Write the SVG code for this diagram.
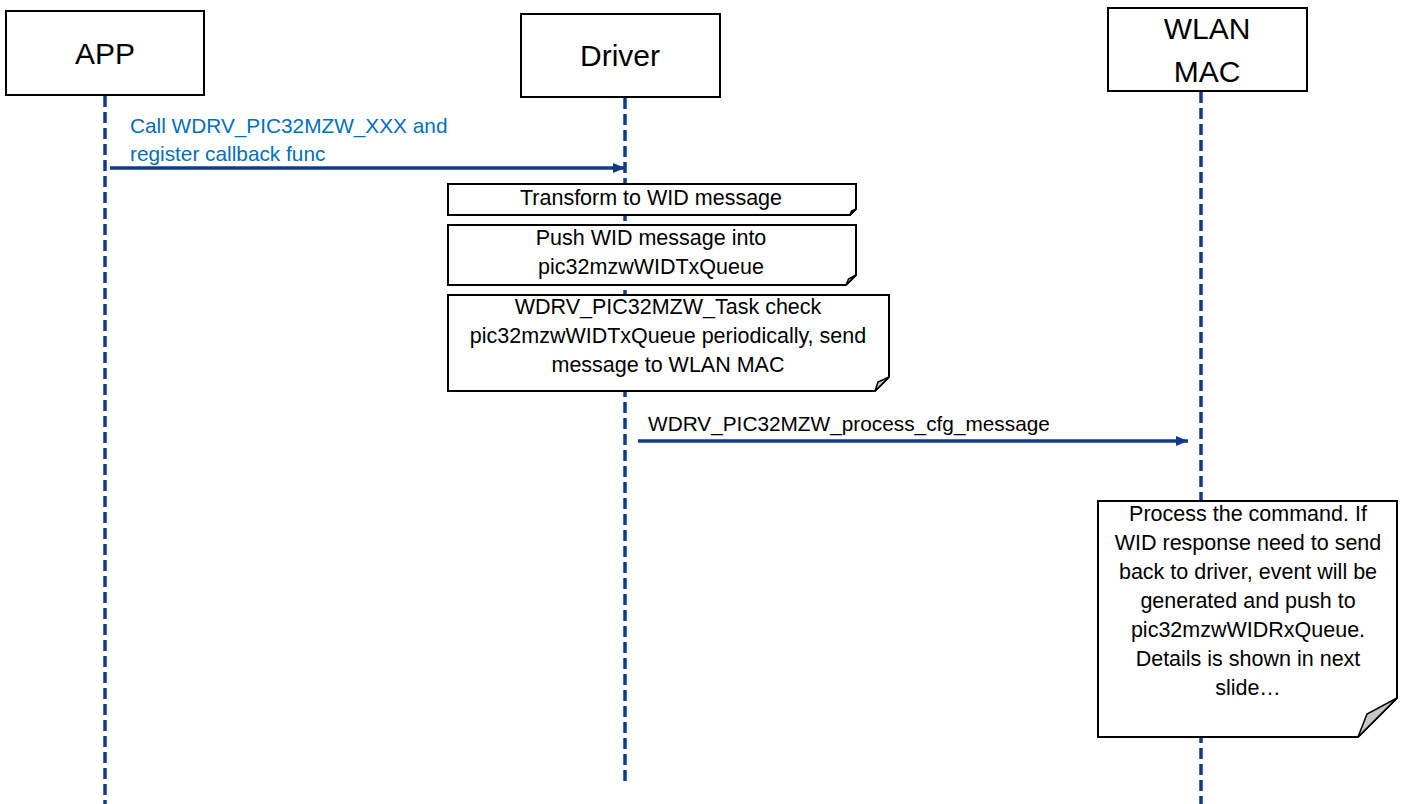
<svg xmlns="http://www.w3.org/2000/svg" width="1405" height="804" viewBox="0 0 1405 804">
<style>
.box{fill:#fff;stroke:#000;stroke-width:2}
.life{stroke:#13398a;stroke-width:3.5;stroke-dasharray:11 5;fill:none}
.msg{stroke:#13398a;stroke-width:3.5;fill:none}
.title{font-family:"Liberation Sans",Arial,sans-serif;font-size:30px;fill:#000;text-anchor:middle}
.t{font-family:"Liberation Sans",Arial,sans-serif;font-size:21.5px;fill:#000;text-anchor:middle}
.lbl{font-family:"Liberation Sans",Arial,sans-serif;font-size:20.8px;fill:#000}
.blue{fill:#0070c0}
.fold{fill:#c8c8c8;stroke:#000;stroke-width:1.5}
</style>
<defs>
<marker id="arr" markerWidth="12" markerHeight="10" refX="12" refY="5" orient="auto" markerUnits="userSpaceOnUse">
<path d="M0,0 L12,5 L0,10 Z" fill="#13398a"/>
</marker>
</defs>
<rect width="1405" height="804" fill="#fff"/>
<g id="lifelines">
<line class="life" x1="105" y1="96" x2="105" y2="804"/>
<line class="life" x1="625" y1="98" x2="625" y2="786"/>
<line class="life" x1="1201" y1="92" x2="1201" y2="804"/>
</g>
<g id="app">
<rect class="box" x="6" y="11" width="198" height="84"/>
<text class="title" x="105" y="64">APP</text>
</g>
<g id="driver">
<rect class="box" x="521" y="14" width="199" height="83"/>
<text class="title" x="620" y="66">Driver</text>
</g>
<g id="wlanmac">
<rect class="box" x="1108" y="8" width="199" height="83"/>
<text class="title" x="1207" y="39">WLAN</text>
<text class="title" x="1207" y="82">MAC</text>
</g>
<g id="connectors">
<line class="msg" x1="110" y1="168" x2="625" y2="168" marker-end="url(#arr)"/>
<line class="msg" x1="638" y1="441" x2="1188" y2="441" marker-end="url(#arr)"/>
<text class="lbl blue" x="130" y="133">Call WDRV_PIC32MZW_XXX and</text>
<text class="lbl blue" x="130" y="161">register callback func</text>
<text class="lbl" x="648" y="431">WDRV_PIC32MZW_process_cfg_message</text>
</g>
<g id="note1">
<path class="box" d="M448,184 H856 V209 L850,215 H448 Z"/>
<path class="fold" d="M850,215 L851.5,211 L856,209 Z"/>
<text class="t" x="651" y="205">Transform to WID message</text>
</g>
<g id="note2">
<path class="box" d="M448,225 H856 V275 L846,285 H448 Z"/>
<path class="fold" d="M846,285 L848.5,279 L856,275 Z"/>
<text class="t" x="651" y="245">Push WID message into</text>
<text class="t" x="651" y="274">pic32mzwWIDTxQueue</text>
</g>
<g id="note3">
<path class="box" d="M448,295 H889 V377 L875,391 H448 Z"/>
<path class="fold" d="M875,391 L878,382 L889,377 Z"/>
<text class="t" x="668" y="314">WDRV_PIC32MZW_Task check</text>
<text class="t" x="668" y="343">pic32mzwWIDTxQueue periodically, send</text>
<text class="t" x="668" y="372">message to WLAN MAC</text>
</g>
<g id="note4">
<path class="box" d="M1098,501 H1397 V698 L1358,737 H1098 Z"/>
<path class="fold" d="M1358,737 L1367,714 L1397,698 Z"/>
<text class="t" x="1248" y="521">Process the command. If</text>
<text class="t" x="1248" y="550">WID response need to send</text>
<text class="t" x="1248" y="579">back to driver, event will be</text>
<text class="t" x="1248" y="608">generated and push to</text>
<text class="t" x="1248" y="637">pic32mzwWIDRxQueue.</text>
<text class="t" x="1248" y="666">Details is shown in next</text>
<text class="t" x="1248" y="695">slide…</text>
</g>
</svg>
